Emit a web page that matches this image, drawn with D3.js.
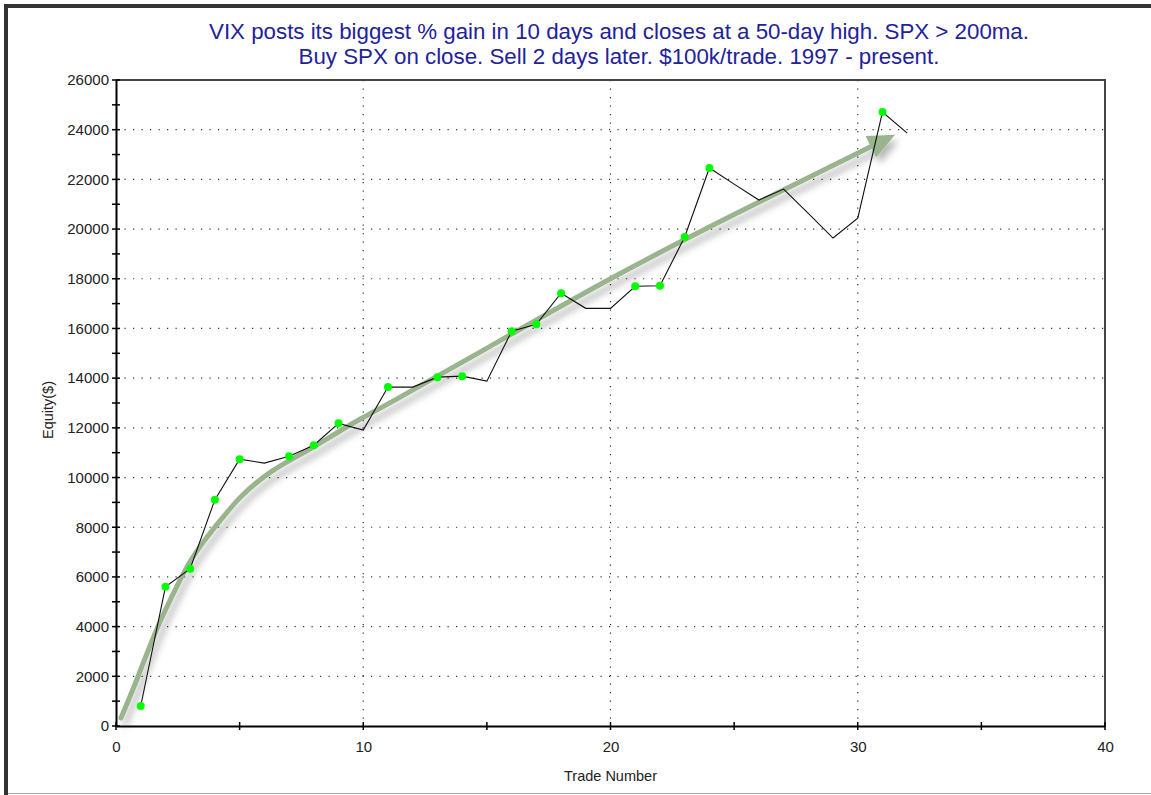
<!DOCTYPE html>
<html>
<head>
<meta charset="utf-8">
<script src="https://cdn.jsdelivr.net/npm/d3@7"></script>
<style>
  body { margin: 0; background: #fff; }
  svg { display: block; font-family: Arial, "Liberation Sans", sans-serif; }
</style>
</head>
<body>
<svg width="1151" height="795"></svg>
<script>
// trade-by-trade equity
var trades = d3.range(1, 33);
var equity = [805, 5600, 6330, 9110, 10740, 10580, 10860, 11300, 12180, 11910,
              13640, 13640, 14040, 14080, 13880, 15890, 16170, 17420, 16810, 16810,
              17700, 17720, 19680, 22460, 21810, 21170, 21610, 20630, 19640, 20440,
              24710, 23860];
// hand drawn trend arrow
var trendX = [0.2, 0.85, 1.65, 2.6, 3.0, 3.8, 4.33, 5, 5.7, 6.35, 7.04, 8, 9.06, 10, 10.8, 15, 20, 25, 30.6];
var trendY = [320, 1850, 4000, 5900, 6680, 7770, 8410, 9215, 9820, 10300, 10700, 11230, 11880, 12430, 12840,
              15200, 18050, 20600, 23350];

var titleLines = ["VIX posts its biggest % gain in 10 days and closes at a 50-day high. SPX > 200ma.",
                  "Buy SPX on close. Sell 2 days later. $100k/trade. 1997 - present."];
var xTicks = [0, 10, 20, 30, 40];
var yTicks = d3.range(0, 26001, 2000);

var svg = d3.select("svg"),
    margin = {top: 80, right: 46, bottom: 69, left: 116},
    width = +svg.attr("width") - margin.left - margin.right,
    height = +svg.attr("height") - margin.top - margin.bottom;

// outer frame
svg.append("rect").attr("x", 0).attr("y", 0).attr("width", 1151).attr("height", 795).attr("fill", "#fff");
svg.append("line").attr("x1", 6).attr("x2", 1151).attr("y1", 6).attr("y2", 6)
    .attr("stroke", "#333").attr("stroke-width", 4);
svg.append("line").attr("x1", 6).attr("x2", 6).attr("y1", 4).attr("y2", 795)
    .attr("stroke", "#333").attr("stroke-width", 4);
svg.append("line").attr("x1", 8).attr("x2", 1151).attr("y1", 793.5).attr("y2", 793.5)
    .attr("stroke", "#aaa").attr("stroke-width", 1);

var defs = svg.append("defs");
defs.append("filter").attr("id", "shadow")
    .attr("x", "-20%").attr("y", "-20%").attr("width", "140%").attr("height", "140%")
  .append("feDropShadow")
    .attr("dx", 4).attr("dy", 6).attr("stdDeviation", 3.5)
    .attr("flood-color", "#000").attr("flood-opacity", 0.28);
defs.append("marker").attr("id", "head")
    .attr("markerUnits", "userSpaceOnUse")
    .attr("viewBox", "0 -12 27 24")
    .attr("refX", 2).attr("refY", 0)
    .attr("markerWidth", 27).attr("markerHeight", 24)
    .attr("orient", "auto")
  .append("path").attr("d", "M0,-12L27,0L0,12Z").attr("fill", "#9ab48e");

var g = svg.append("g").attr("transform", "translate(" + margin.left + "," + margin.top + ")");

var x = d3.scaleLinear().domain([0, 40]).range([0, width]);
var y = d3.scaleLinear().domain([0, 26000]).range([height, 0]);

// dotted grid
g.append("g").selectAll("line")
    .data(yTicks.filter(function(d) { return d > 0 && d < 26000; }))
    .enter().append("line")
    .attr("x1", 0).attr("x2", width)
    .attr("y1", function(d) { return y(d); }).attr("y2", function(d) { return y(d); })
    .attr("stroke", "#333").attr("stroke-width", 1.2).attr("stroke-dasharray", "1.2,7.3");
g.append("g").selectAll("line")
    .data(xTicks.filter(function(d) { return d > 0 && d < 40; }))
    .enter().append("line")
    .attr("y1", 0).attr("y2", height)
    .attr("x1", function(d) { return x(d); }).attr("x2", function(d) { return x(d); })
    .attr("stroke", "#333").attr("stroke-width", 1.2).attr("stroke-dasharray", "1.2,7.3");

// plot frame top/right
g.append("path").attr("d", "M0,0H" + width + "V" + height)
    .attr("fill", "none").attr("stroke", "#444").attr("stroke-width", 2);

// axes
var yAxis = g.append("g")
    .call(d3.axisLeft(y).tickValues(yTicks).tickFormat(d3.format("d")).tickSize(0).tickPadding(7));
yAxis.select(".domain").attr("stroke", "#000").attr("stroke-width", 2);
yAxis.selectAll("text").attr("font-size", 15).attr("fill", "#222")
    .attr("font-family", "Arial, 'Liberation Sans', sans-serif");
g.append("g").selectAll("line")
    .data(d3.range(0, 26001, 1000))
    .enter().append("line")
    .attr("x1", -4).attr("x2", 4)
    .attr("y1", function(d) { return y(d); }).attr("y2", function(d) { return y(d); })
    .attr("stroke", "#000").attr("stroke-width", 1.5);

var xAxis = g.append("g").attr("transform", "translate(0," + height + ")")
    .call(d3.axisBottom(x).tickValues(xTicks).tickSize(0).tickPadding(15));
xAxis.select(".domain").attr("stroke", "#000").attr("stroke-width", 2);
xAxis.selectAll("text").attr("font-size", 15).attr("fill", "#222")
    .attr("font-family", "Arial, 'Liberation Sans', sans-serif");
g.append("g").selectAll("line")
    .data(d3.range(0, 41, 5))
    .enter().append("line")
    .attr("y1", height - 4).attr("y2", height + 4)
    .attr("x1", function(d) { return x(d); }).attr("x2", function(d) { return x(d); })
    .attr("stroke", "#000").attr("stroke-width", 1.5);

// trend arrow
var trend = trendX.map(function(d, i) { return [d, trendY[i]]; });
g.append("path")
    .datum(trend)
    .attr("fill", "none")
    .attr("stroke", "#9ab48e")
    .attr("stroke-width", 5)
    .attr("stroke-linecap", "round")
    .attr("marker-end", "url(#head)")
    .attr("filter", "url(#shadow)")
    .attr("d", d3.line().curve(d3.curveBasis)
        .x(function(d) { return x(d[0]); })
        .y(function(d) { return y(d[1]); }));

// equity line
var pts = trades.map(function(t, i) { return {t: t, v: equity[i]}; });
g.append("path")
    .datum(pts)
    .attr("fill", "none")
    .attr("stroke", "#111")
    .attr("stroke-width", 1.1)
    .attr("d", d3.line()
        .x(function(d) { return x(d.t); })
        .y(function(d) { return y(d.v); }));

// green dots on new equity highs
var hi = -Infinity;
var highs = pts.filter(function(d) { if (d.v > hi) { hi = d.v; return true; } return false; });
g.append("g").selectAll("circle")
    .data(highs)
    .enter().append("circle")
    .attr("cx", function(d) { return x(d.t); })
    .attr("cy", function(d) { return y(d.v); })
    .attr("r", 4)
    .attr("fill", "#00ff00");

// labels
g.append("text")
    .attr("x", width / 2)
    .attr("y", height + 55)
    .attr("text-anchor", "middle")
    .attr("font-size", 14.5)
    .attr("fill", "#222")
    .text("Trade Number");

g.append("text")
    .attr("transform", "translate(-63," + (height / 2 + 7) + ") rotate(-90)")
    .attr("text-anchor", "middle")
    .attr("font-size", 14.5)
    .attr("fill", "#222")
    .text("Equity($)");

svg.append("g").selectAll("text")
    .data(titleLines)
    .enter().append("text")
    .attr("x", 619)
    .attr("y", function(d, i) { return 39 + i * 25; })
    .attr("text-anchor", "middle")
    .attr("font-size", 22.3)
    .attr("fill", "#22229a")
    .text(function(d) { return d; });
</script>
</body>
</html>
